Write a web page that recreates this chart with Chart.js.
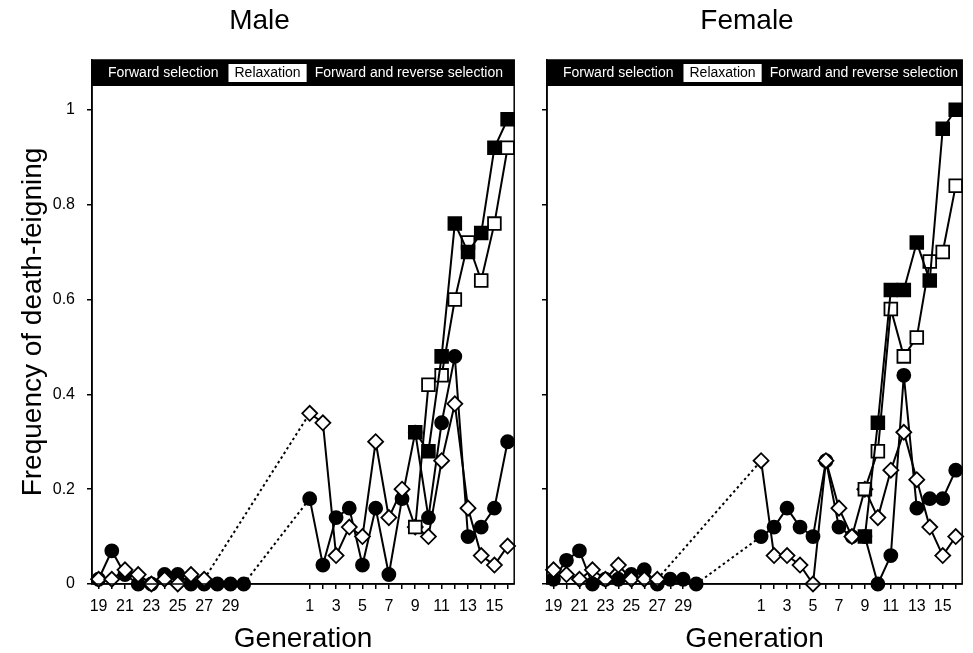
<!DOCTYPE html>
<html><head><meta charset="utf-8">
<script src="https://cdn.jsdelivr.net/npm/chart.js@4.4.0/dist/chart.umd.min.js"></script>
<style>
html,body{margin:0;padding:0;background:#fff;}
#wrap{position:relative;width:973px;height:653px;background:#fff;}
canvas{position:absolute;top:0;}
</style></head><body>
<div id="wrap">
<canvas id="male" width="525" height="653" style="left:0;width:525px;height:653px"></canvas>
<canvas id="female" width="448" height="653" style="left:525px;width:448px;height:653px"></canvas>
</div>
<script>
// ---- categories ----
const genPart1 = [19,20,21,22,23,24,25,26,27,28,29,30];
const genPart2 = [1,2,3,4,5,6,7,8,9,10,11,12,13,14,15,16];
const yTicks = [0,0.2,0.4,0.6,0.8,1];
const phaseLabels = ["Forward selection","Relaxation","Forward and reverse selection"];
const panelTitles = ["Male","Female"];

// ---- Male series ----
const maleCircles1  = [0.01,0.07,0.02,0,0,0.02,0.02,0,0,0,0,0];
const maleDiamonds1 = [0.01,0.01,0.03,0.02,0,0.01,0,0.02,0.01,null,null,null];
const maleCircles2  = [0.18,0.04,0.14,0.16,0.04,0.16,0.02,0.18,0.32,0.14,0.34,0.48,0.10,0.12,0.16,0.30];
const maleDiamonds2 = [0.36,0.34,0.06,0.12,0.10,0.30,0.14,0.20,0.12,0.10,0.26,0.38,0.16,0.06,0.04,0.08];
const maleFilledSq2 = [null,null,null,null,null,null,null,null,0.32,0.28,0.48,0.76,0.70,0.74,0.92,0.98];
const maleOpenSq2   = [null,null,null,null,null,null,null,null,0.12,0.42,0.44,0.60,0.72,0.64,0.76,0.92];

// ---- Female series ----
const femaleCircles1  = [0.01,0.05,0.07,0,0.01,0.01,0.02,0.03,0,0.01,0.01,0];
const femaleDiamonds1 = [0.03,0.02,0.01,0.03,0.01,0.04,0.01,0.01,0.01,null,null,null];
const femaleCircles2  = [0.10,0.12,0.16,0.12,0.10,0.26,0.12,0.10,0.10,0,0.06,0.44,0.16,0.18,0.18,0.24];
const femaleDiamonds2 = [0.26,0.06,0.06,0.04,0,0.26,0.16,0.10,0.20,0.14,0.24,0.32,0.22,0.12,0.06,0.10];
const femaleFilledSq2 = [null,null,null,null,null,null,null,null,0.10,0.34,0.62,0.62,0.72,0.64,0.96,1.00];
const femaleOpenSq2   = [null,null,null,null,null,null,null,null,0.20,0.28,0.58,0.48,0.52,0.68,0.70,0.84];

const FONT = '"Liberation Sans", Arial, Helvetica, sans-serif';
const GAP = 4;
const OFF = genPart1.length + GAP;
const positions = genPart1.map((g,i)=>i).concat(genPart2.map((g,j)=>OFF+j));

function pts(a1, a2){
  const out = [];
  if (a1) a1.forEach((v,i)=>{ if (v!==null) out.push({x:i, y:v}); });
  if (a2) a2.forEach((v,j)=>{ if (v!==null) out.push({x:OFF+j, y:v}); });
  return out;
}
function ds(label, data, style, fill, radius){
  return {
    label, data, pointStyle: style, pointRadius: radius, pointHoverRadius: radius,
    pointBackgroundColor: fill, pointBorderColor: '#000', pointBorderWidth: 1.8,
    borderColor: '#000', borderWidth: 2, backgroundColor: fill, tension: 0, fill: false, clip: false,
    borderDash: [],
    segment: { borderDash: c => (c.p0.parsed.x < genPart1.length && c.p1.parsed.x >= OFF) ? [2.5,3] : undefined }
  };
}
function labelFor(v){
  if (v < genPart1.length) return (v % 2 === 0) ? String(genPart1[v]) : '';
  const j = v - OFF;
  return (j % 2 === 0) ? String(genPart2[j]) : '';
}

const bannerPlugin = {
  id: 'banner',
  afterDraw(chart){
    const {ctx, chartArea: a} = chart;
    ctx.save();
    ctx.fillStyle = '#000';
    ctx.fillRect(a.left, a.top, a.right - a.left, 26);
    ctx.font = '14px ' + FONT;
    ctx.textBaseline = 'middle';
    const yc = a.top + 13.5;
    let x = a.left + 16;
    ctx.fillStyle = '#fff';
    ctx.fillText(phaseLabels[0], x, yc);
    x += ctx.measureText(phaseLabels[0]).width + 10;
    const w1 = ctx.measureText(phaseLabels[1]).width;
    ctx.fillRect(x, a.top + 4, w1 + 12, 18);
    ctx.fillStyle = '#000';
    ctx.fillText(phaseLabels[1], x + 6, yc);
    x += w1 + 12 + 8;
    ctx.fillStyle = '#fff';
    ctx.fillText(phaseLabels[2], x, yc);
    ctx.strokeStyle = '#000';
    ctx.lineWidth = 1.5;
    ctx.strokeRect(a.left, a.top, a.right - a.left, a.bottom - a.top);
    ctx.restore();
  }
};

function makeChart(id, title, c1, d1, c2, d2, fs, os, showY, yWidth, padRight){
  const datasets = [
    ds('Filled squares', pts(null, fs), 'rect', '#000', 9),
    ds('Open squares', pts(null, os), 'rect', '#fff', 9),
    ds('Diamonds', pts(d1, d2), 'rectRot', '#fff', 7.5),
    ds('Circles', pts(c1, c2), 'circle', '#000', 6.5)
  ];
  return new Chart(document.getElementById(id), {
    type: 'line',
    data: { datasets },
    plugins: [bannerPlugin],
    options: {
      responsive: false, animation: false, devicePixelRatio: 1,
      layout: { padding: { left: 0, right: padRight, top: 0, bottom: 0 } },
      plugins: {
        legend: { display: false }, tooltip: { enabled: false },
        title: { display: true, text: title, color: '#000',
          font: { family: FONT, size: 28, weight: 'normal', lineHeight: 1 },
          padding: { top: 7, bottom: 25 } }
      },
      scales: {
        x: {
          type: 'linear', min: -0.5, max: 31.5,
          afterBuildTicks: s => { s.ticks = positions.map(v => ({ value: v })); },
          afterFit: s => { s.height = 69; },
          grid: { drawOnChartArea: false, drawTicks: true, tickLength: 5, color: '#000', lineWidth: 1.5 },
          border: { display: true, color: '#000', width: 1.5 },
          ticks: { autoSkip: false, maxRotation: 0, minRotation: 0, padding: 8, color: '#000',
            font: { family: FONT, size: 16 }, callback: v => labelFor(v) },
          title: { display: true, text: 'Generation', color: '#000',
            font: { family: FONT, size: 28, lineHeight: 1 }, padding: { top: 0, bottom: 0 } }
        },
        y: {
          min: 0, max: 1.105,
          afterBuildTicks: s => { s.ticks = yTicks.map(v => ({ value: v })); },
          afterFit: s => { s.width = yWidth; },
          grid: { drawOnChartArea: false, drawTicks: true, tickLength: 5, color: '#000', lineWidth: 1.5 },
          border: { display: true, color: '#000', width: 1.5 },
          ticks: { display: showY, padding: 12, color: '#000', font: { family: FONT, size: 16 },
            callback: v => (v === 0 ? '0' : v === 1 ? '1' : v.toFixed(1)) },
          title: { display: showY, text: 'Frequency of death-feigning', color: '#000',
            font: { family: FONT, size: 28, lineHeight: 1 }, padding: { top: 19, bottom: 0 } }
        }
      }
    }
  });
}

makeChart('male', panelTitles[0], maleCircles1, maleDiamonds1, maleCircles2, maleDiamonds2, maleFilledSq2, maleOpenSq2, true, 92, 6);
makeChart('female', panelTitles[1], femaleCircles1, femaleDiamonds1, femaleCircles2, femaleDiamonds2, femaleFilledSq2, femaleOpenSq2, false, 22, 4);
</script>
</body></html>
